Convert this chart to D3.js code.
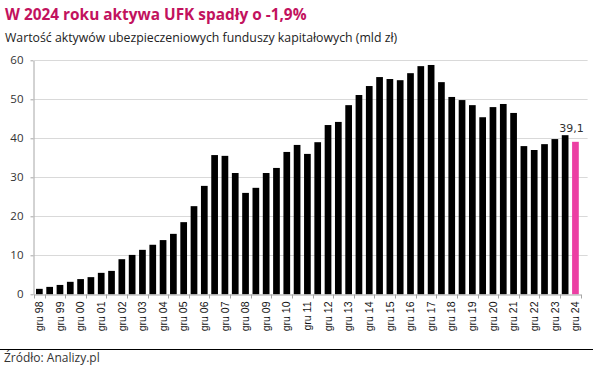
<!DOCTYPE html>
<html>
<head>
<meta charset="utf-8">
<script src="https://cdn.jsdelivr.net/npm/d3@7"></script>
<style>
  body { margin: 0; background: #fff; }
  svg { display: block; }
  .title { font-family: "Open Sans", sans-serif; font-weight: 700; fill: #c2125e; }
  .subtitle { font-family: "Open Sans", sans-serif; fill: #222; }
  .y-axis text { font-family: "Open Sans", sans-serif; font-size: 11.5px; fill: #333; }
  .x-axis text { font-family: "Liberation Sans", Arial, sans-serif; font-size: 10.5px; fill: #111; }
  .source { font-family: "Open Sans", sans-serif; font-size: 12px; fill: #333; }
  .value-label { font-family: "DejaVu Sans", Verdana, sans-serif; font-size: 11px; fill: #333; }
</style>
</head>
<body>
<div id="chart"></div>
<script>
// semi-annual periods (cze = June, gru = December)
const periods = [
  "gru 98", "cze 99", "gru 99", "cze 00", "gru 00", "cze 01", "gru 01", "cze 02", "gru 02",
  "cze 03", "gru 03", "cze 04", "gru 04", "cze 05", "gru 05", "cze 06", "gru 06",
  "cze 07", "gru 07", "cze 08", "gru 08", "cze 09", "gru 09", "cze 10", "gru 10",
  "cze 11", "gru 11", "cze 12", "gru 12", "cze 13", "gru 13", "cze 14", "gru 14",
  "cze 15", "gru 15", "cze 16", "gru 16", "cze 17", "gru 17", "cze 18", "gru 18",
  "cze 19", "gru 19", "cze 20", "gru 20", "cze 21", "gru 21", "cze 22", "gru 22",
  "cze 23", "gru 23", "cze 24", "gru 24"
];

// asset value, bn PLN
const assets = [
  1.4, 1.9, 2.4, 3.2, 3.9, 4.4, 5.5, 6.0, 9.0,
  10.1, 11.4, 12.7, 13.9, 15.5, 18.5, 22.6, 27.8,
  35.7, 35.5, 31.1, 26.0, 27.3, 31.1, 32.4, 36.5,
  38.3, 36.0, 39.0, 43.4, 44.2, 48.5, 51.1, 53.4,
  55.7, 55.2, 54.9, 56.7, 58.5, 58.8, 54.4, 50.6,
  49.8, 48.5, 45.4, 48.0, 48.8, 46.5, 38.0, 37.0,
  38.5, 39.8, 40.8, 39.1
];

const yTicks = [0, 10, 20, 30, 40, 50, 60];
const highlight = "gru 24";
const highlightLabel = "39,1";

const W = 593, H = 367;
const plot = { left: 34.2, right: 580.6, top: 60.3, bottom: 294.3 };

const svg = d3.select("#chart").append("svg")
    .attr("width", W)
    .attr("height", H);

svg.append("text")
    .attr("class", "title")
    .attr("x", 5)
    .attr("y", 20)
    .style("font-size", "15.4px")
    .text("W 2024 roku aktywa UFK spadły o -1,9%");

svg.append("text")
    .attr("class", "subtitle")
    .attr("x", 5)
    .attr("y", 42)
    .style("font-size", "12.3px")
    .text("Wartość aktywów ubezpieczeniowych funduszy kapitałowych (mld zł)");

const x = d3.scaleBand()
    .domain(periods)
    .range([plot.left, plot.right])
    .paddingInner(0.35)
    .paddingOuter(0.175);

const y = d3.scaleLinear()
    .domain([0, 60])
    .range([plot.bottom, plot.top]);

// gridlines
svg.append("g")
    .attr("class", "grid")
    .selectAll("line")
    .data(yTicks.filter(d => d > 0))
    .enter().append("line")
    .attr("x1", plot.left)
    .attr("x2", plot.right + 7)
    .attr("y1", d => Math.round(y(d)) + 0.5)
    .attr("y2", d => Math.round(y(d)) + 0.5)
    .attr("stroke", "#d9d9d9")
    .attr("stroke-width", 1);

// y axis
const yAxis = svg.append("g")
    .attr("class", "y-axis")
    .attr("transform", `translate(${Math.round(plot.left) - 0.5},0)`)
    .call(d3.axisLeft(y).tickValues(yTicks).tickSize(3).tickSizeOuter(0).tickPadding(7));
yAxis.select(".domain").attr("stroke", "#a6a6a6");
yAxis.selectAll(".tick line").attr("stroke", "#a6a6a6");

// bars
svg.append("g")
    .selectAll("rect")
    .data(periods.map((p, i) => ({ period: p, value: assets[i] })))
    .enter().append("rect")
    .attr("x", d => x(d.period))
    .attr("y", d => y(d.value))
    .attr("width", x.bandwidth())
    .attr("height", d => y(0) - y(d.value))
    .attr("fill", d => d.period === highlight ? "#ec3fa3" : "#000");

// x axis
const gruLabels = periods.filter(p => p.startsWith("gru"));
const xAxis = svg.append("g")
    .attr("class", "x-axis")
    .attr("transform", `translate(0,${Math.round(plot.bottom) + 0.5})`)
    .call(d3.axisBottom(x).tickValues(gruLabels).tickSize(0).tickSizeOuter(0));
xAxis.select(".domain").attr("stroke", "#a6a6a6");
xAxis.selectAll(".tick text")
    .attr("transform", "rotate(-90)")
    .attr("x", -7)
    .attr("y", 0)
    .attr("dy", "0.35em")
    .style("text-anchor", "end");

// tick marks at the band boundary after each December bar
const boundaries = [plot.left].concat(gruLabels.map(p => x(p) - x.step() * x.paddingInner() / 2 + x.step()));
xAxis.selectAll(".boundary")
    .data(boundaries)
    .enter().append("line")
    .attr("class", "boundary")
    .attr("x1", d => Math.round(d) + 0.5)
    .attr("x2", d => Math.round(d) + 0.5)
    .attr("y1", 0)
    .attr("y2", 4)
    .attr("stroke", "#a6a6a6");

// value label on the last bar
const lastIdx = periods.indexOf(highlight);
svg.append("text")
    .attr("class", "value-label")
    .attr("x", x(highlight) + x.bandwidth() / 2 - 4)
    .attr("y", y(assets[lastIdx]) - 10)
    .attr("text-anchor", "middle")
    .text(highlightLabel);

// footer
svg.append("line")
    .attr("x1", 0)
    .attr("x2", W)
    .attr("y1", 349.5)
    .attr("y2", 349.5)
    .attr("stroke", "#000")
    .attr("stroke-width", 1.2);

svg.append("text")
    .attr("class", "source")
    .attr("x", 4)
    .attr("y", 362)
    .text("Źródło: Analizy.pl");
</script>
</body>
</html>
